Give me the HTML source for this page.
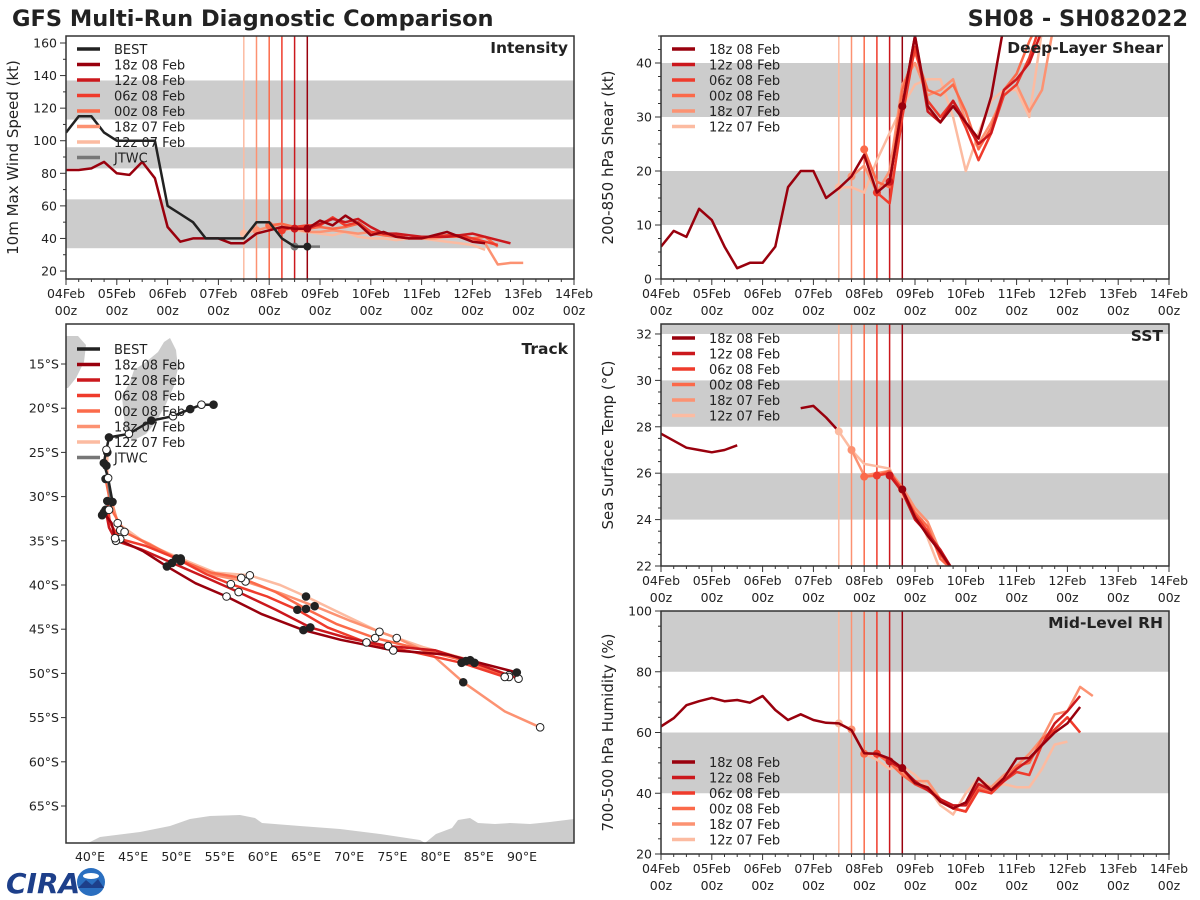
<!DOCTYPE html>
<html><head><meta charset="utf-8">
<style>
html,body{margin:0;padding:0;background:#fff;}
svg{display:block;font-family:"DejaVu Sans","Liberation Sans",sans-serif;}
</style></head>
<body>
<svg id="fig" width="1200" height="900" viewBox="0 0 1200 900" xmlns="http://www.w3.org/2000/svg">
<text x="12" y="26" font-size="22.5" font-weight="bold" fill="#222">GFS Multi-Run Diagnostic Comparison</text>
<text x="1188" y="26" font-size="22.5" font-weight="bold" fill="#222" text-anchor="end">SH08 - SH082022</text>
<g>
<text x="6" y="893" font-size="28" font-weight="bold" fill="#1d3f8a" font-style="italic">CIRA</text>
<circle cx="91" cy="882" r="14" fill="#2a6fc0"/>
<ellipse cx="91" cy="876" rx="8" ry="3" fill="#fff"/>
<path d="M78 888 L86 880 L92 885 L98 879 L104 888 Z" fill="#1d3f8a"/>
</g>
</svg>
<script>
// ===== time axis data =====
const dayLabels = ["04Feb","05Feb","06Feb","07Feb","08Feb","09Feb","10Feb","11Feb","12Feb","13Feb","14Feb"];
const runNames = ["18z 08 Feb","12z 08 Feb","06z 08 Feb","00z 08 Feb","18z 07 Feb","12z 07 Feb"];
const runInit = [4.75, 4.5, 4.25, 4.0, 3.75, 3.5];
const runColors = ["#99000d","#cb181d","#ef3b2c","#fb6a4a","#fc9272","#fcbba1"];

// ===== intensity (kt), 6-hourly =====
const bestStart = 0;
const bestVmax = [105,115,115,105,100,100,100,100,60,55,50,40,40,40,40,50,50,40,35,35];
const jtwcStart = 4.5;
const jtwcVmax = [35,35,35];
const int18z08Start = 0;
const int18z08 = [82,82,83,87,80,79,87,77,47,38,40,40,40,37,37,43,45,47,46,46,51,48,54,49,42,44,41,40,40,42,44,41,38,37];
const int12z08 = [46,46,49,52,50,52,47,43,43,42,41,41,41,42,43,41,39,37];
const int06z08 = [45,47,48,48,53,48,50,44,43,42,40,41,41,42,42,40,38,36];
const int00z08 = [48,49,47,46,47,46,47,49,43,42,41,40,40,41,41,41,40,41,35];
const int18z07 = [45,47,49,46,44,44,45,44,43,44,42,41,40,40,40,41,41,39,37,24,25,25];
const int12z07 = [43,45,47,46,45,44,43,42,44,41,40,40,39,40,40,39,38,37,36,33];

// ===== shear (kt) =====
const shr18z08Start = 0;
const shr18z08 = [6,8.9,7.8,13,10.9,6,2,3,3,6,17,20,20,15,16.8,19,23,16,18,32,45,32,29,32,29,26,33.8,47,52];
const shr12z08 = [18,32,45,31,29,33,29,25,27,35,37,40,46,50];
const shr06z08 = [16,14,30,43,33,30,33,28,22,27,34,36,41,48];
const shr00z08 = [24,18,17,35,42,35,34,36,31,24,28,35,38,44,49];
const shr18z07 = [19,21,16,20,36,40,34,35,37,29,25,29,34,36,31,35,48];
const shr12z07 = [17,17,16,22,27,32,36,37,37,30,20,27,33,35,35,30,46];

// ===== SST (C) =====
const sstHistA = [27.7,27.4,27.1,27.0,26.9,27.0,27.2];
const sstHistB = [28.8,28.9,28.4,27.8];
const sstHistBStart = 2.75;
const sst18z08 = [25.3,24.1,23.3,22.6,21.8];
const sst12z08 = [25.9,25.2,24.0,23.4,22.7,21.8];
const sst06z08 = [25.9,26.0,25.3,24.2,23.5,22.5,21.8];
const sst00z08 = [25.85,25.9,26.1,25.2,24.3,23.7,22.3,21.8];
const sst18z07 = [27.0,25.9,26.0,26.1,25.4,24.5,23.9,22.6,21.8];
const sst12z07 = [27.8,27.0,26.4,26.3,26.2,25.0,24.5,23.2,21.8];

// ===== RH (%) =====
const rh18z08Start = 0;
const rh18z08 = [62,64.7,69,70.3,71.4,70.3,70.7,69.8,72,67.4,64.1,66,64.1,63.2,63,60.8,53.2,53,51.4,48.3,43.4,41.9,37.2,35,37,45,41,45,51.4,51.6,55.8,60,63,68.4];
const rh12z08 = [50.5,48,44,41,38,36,36,43,41,44,48,51,56,63,67,72];
const rh06z08 = [53,51,48,43,41,38,35,34,41,40,44,47,46,56,61,65,60];
const rh00z08 = [53,53,50,46,43,42,38,35,34,42,40,44,49,50,58,61,65,60];
const rh18z07 = [61,53,53,50,47,44,44,38,35,34,43,42,46,49,53,58,66,67,75,72];
const rh12z07 = [63,61,53,51,48,49,46,42,36,33,40,45,42,43,42,42,48,56,57];

// ===== track (lon E, lat S) =====
const bestLon = [54.3,52.9,51.6,49.6,47.1,44.5,42.2,41.9,41.6,42.1,42.6,42.2,41.4];
const bestLat = [19.6,19.6,20.1,20.9,21.4,22.9,23.3,24.7,26.2,27.9,30.6,31.5,32.1];
const jtwcLon = [42.1,42.3,42.5];
const jtwcLat = [28.3,29.7,31.0];
const trk18z08Lon = [41.6,42.5,42.9,46.2,48.9,52.2,55.8,59.9,64.7,69.0,75.1,81.5,89.4];
const trk18z08Lat = [31.8,33.0,34.7,36.2,37.9,39.8,41.3,43.3,45.1,46.2,47.4,47.9,49.9];
const trk12z08Lon = [41.8,42.2,43.0,46.0,49.5,53.5,57.2,61.5,65.5,69.8,74.5,80.0,84.5,89.6];
const trk12z08Lat = [31.5,33.5,35.0,36.0,37.5,39.2,40.8,42.8,44.8,46.0,46.9,47.4,48.8,50.6];
const trk06z08Lon = [42.0,42.3,43.5,46.5,50.0,53.5,56.3,60.5,64.0,67.5,72.0,77.5,83.0,88.0];
const trk06z08Lat = [30.5,33.0,34.8,35.6,37.0,38.8,39.9,41.3,42.8,44.8,46.5,47.6,48.8,50.4];
const trk00z08Lon = [41.8,42.5,44.0,47.0,50.5,54.0,57.5,61.5,65.0,68.5,73.0,78.0,83.5,88.5];
const trk00z08Lat = [28.0,31.5,34.0,35.5,37.2,38.6,39.2,40.8,42.7,44.4,46.0,47.2,48.6,50.4];
const trk18z07Lon = [41.9,42.3,43.5,47.0,50.5,54.5,58.0,62.0,66.0,70.0,75.5,79.5,83.2,88.0,92.1];
const trk18z07Lat = [26.5,30.0,33.8,35.4,37.3,38.9,39.6,40.9,42.4,44.0,46.0,47.8,51.0,54.3,56.1];
const trk12z07Lon = [42.0,42.0,43.2,46.5,50.5,54.5,58.5,62.0,65.0,69.0,73.5,78.5,84.0,88.5];
const trk12z07Lat = [25.0,28.5,33.0,35.3,37.0,38.6,38.9,40.0,41.3,43.2,45.3,47.0,48.5,50.2];

// ===== helpers =====
const NS = "http://www.w3.org/2000/svg";
const svg = document.getElementById("fig");
function mk(tag, attrs, parent){
  const e = document.createElementNS(NS, tag);
  for (const k in attrs) e.setAttribute(k, attrs[k]);
  (parent||svg).appendChild(e);
  return e;
}
function linScale(d0,d1,r0,r1){ return v => r0 + (v-d0)/(d1-d0)*(r1-r0); }

function timePanel(o){
  const g = mk("g", {});
  
  
  const sx = linScale(0,10,o.x0,o.x1), sy = linScale(o.ymin,o.ymax,o.y1,o.y0);
  const clipId = "clip-"+o.name;
  const cp = mk("clipPath",{id:clipId},g);
  mk("rect",{x:o.x0,y:o.y0,width:o.x1-o.x0,height:o.y1-o.y0},cp);
  o.bands.forEach(b=>{
    const top = Math.max(sy(b[1]), o.y0), bot = Math.min(sy(b[0]), o.y1);
    const r = mk("rect",{x:o.x0,y:top,width:o.x1-o.x0,height:bot-top,fill:"#cccccc"},g);
    
    
  });
  const data = mk("g",{"clip-path":"url(#"+clipId+")"},g);
  for (let i=runInit.length-1;i>=0;i--){
    const l = mk("line",{x1:sx(runInit[i]),x2:sx(runInit[i]),y1:o.y0,y2:o.y1,stroke:runColors[i],"stroke-width":1.5},data);
    
    
  }
  mk("rect",{x:o.x0,y:o.y0,width:o.x1-o.x0,height:o.y1-o.y0,fill:"none",stroke:"#333","stroke-width":1.5},g);
  for (let d=0; d<=10; d+=0.25){
    const major = Math.abs(d-Math.round(d))<1e-6;
    mk("line",{x1:sx(d),x2:sx(d),y1:o.y1,y2:o.y1+(major?6:3),stroke:"#333","stroke-width":1},g);
    if (major){
      const t1 = mk("text",{x:sx(d),y:o.y1+19,"font-size":12.5,"text-anchor":"middle",fill:"#222"},g);
      t1.textContent = dayLabels[Math.round(d)];
      
      
      const t2 = mk("text",{x:sx(d),y:o.y1+36,"font-size":12.5,"text-anchor":"middle",fill:"#222"},g);
      t2.textContent = "00z";
      
      
    }
  }
  for (let v=o.minorStart; v<=o.ymax+1e-6; v+=o.minor){
    if (v<o.ymin) continue;
    const major = Math.abs(((v-o.majorStart)/o.major) - Math.round((v-o.majorStart)/o.major))<1e-6 && v>=o.majorStart;
    mk("line",{x1:o.x0,x2:o.x0-(major?6:3),y1:sy(v),y2:sy(v),stroke:"#333","stroke-width":1},g);
    if (major){
      const t = mk("text",{x:o.x0-9,y:sy(v)+4.5,"font-size":12.5,"text-anchor":"end",fill:"#222"},g);
      t.textContent = String(v);
      
      
    }
  }
  const yl = mk("text",{x:0,y:0,"font-size":15,"text-anchor":"middle",fill:"#222",transform:"translate("+(o.x0-48)+","+((o.y0+o.y1)/2)+") rotate(-90)"},g);
  yl.textContent = o.ylabel;
  
  
  const pt = mk("text",{x:o.x1-6,y:o.y0+17,"font-size":15.5,"font-weight":"bold","text-anchor":"end",fill:"#222"},g);
  pt.textContent = o.title;
  
  
  return {sx, sy, data, g};
}

function series(P, start, vals, color, width, name, dotFirst){
  const pts = vals.map((v,i)=>P.sx(start+i*0.25).toFixed(1)+","+P.sy(v).toFixed(1)).join(" ");
  const pl = mk("polyline",{points:pts,fill:"none",stroke:color,"stroke-width":width,"stroke-linejoin":"round"},P.data);
  
  
  if (dotFirst!==undefined){
    const c = mk("circle",{cx:P.sx(dotFirst), cy:P.sy(vals[Math.round((dotFirst-start)/0.25)]), r:4, fill:color},P.data);
    
    
  }
}

function legend(parent, x, y, names, colors){
  names.forEach((n,i)=>{
    const yy = y + i*15.5;
    const l = mk("line",{x1:x,x2:x+23,y1:yy,y2:yy,stroke:colors[i],"stroke-width":3.5},parent);
    
    
    const t = mk("text",{x:x+37,y:yy+5,"font-size":13,fill:"#222"},parent);
    t.textContent = n;
    
    
  });
}

// ===== Intensity =====
const PI = timePanel({name:"intensity-panel",x0:66,x1:574,y0:36,y1:279,ymin:15.1,ymax:164.3,bands:[[34,64],[83,96],[113,137]],minor:10,minorStart:20,major:20,majorStart:20,ylabel:"10m Max Wind Speed (kt)",title:"Intensity"});
const intRuns = [int18z08,int12z08,int06z08,int00z08,int18z07,int12z07];
for (let i=intRuns.length-1;i>=0;i--){
  const st = i===0 ? int18z08Start : runInit[i];
  series(PI, st, intRuns[i], runColors[i], 2.5, "intensity-line-"+i, runInit[i]);
}
series(PI, jtwcStart, jtwcVmax, "#777", 2.5, "jtwc-intensity-line", 4.5);
series(PI, bestStart, bestVmax, "#222", 2.5, "best-intensity-line", 4.75);
legend(PI.g, 77, 49, ["BEST"].concat(runNames).concat(["JTWC"]), ["#222"].concat(runColors).concat(["#777"]));

// ===== Shear =====
const PS = timePanel({name:"shear-panel",x0:661,x1:1169,y0:36,y1:279,ymin:0,ymax:45,bands:[[10,20],[30,40]],minor:2.5,minorStart:0,major:10,majorStart:0,ylabel:"200-850 hPa Shear (kt)",title:"Deep-Layer Shear"});
const shrRuns = [shr18z08,shr12z08,shr06z08,shr00z08,shr18z07,shr12z07];
for (let i=shrRuns.length-1;i>=0;i--){
  const st = i===0 ? shr18z08Start : runInit[i];
  series(PS, st, shrRuns[i], runColors[i], 2.5, "shear-line-"+i, runInit[i]);
}
legend(PS.g, 672, 49, runNames, runColors);

// ===== SST =====
const PT = timePanel({name:"sst-panel",x0:661,x1:1169,y0:324,y1:566,ymin:22,ymax:32.43,bands:[[24,26],[28,30],[32,34]],minor:0.5,minorStart:22,major:2,majorStart:22,ylabel:"Sea Surface Temp (°C)",title:"SST"});
series(PT, 0, sstHistA, runColors[0], 2.5, "sst-history-line");
series(PT, sstHistBStart, sstHistB, runColors[0], 2.5, "sst-history-line");
const sstRuns = [sst18z08,sst12z08,sst06z08,sst00z08,sst18z07,sst12z07];
for (let i=sstRuns.length-1;i>=0;i--){
  series(PT, runInit[i], sstRuns[i], runColors[i], 2.5, "sst-line-"+i, runInit[i]);
}
legend(PT.g, 672, 338, runNames, runColors);

// ===== RH =====
const PR = timePanel({name:"rh-panel",x0:661,x1:1169,y0:611,y1:854,ymin:20,ymax:100,bands:[[40,60],[80,100]],minor:5,minorStart:20,major:20,majorStart:20,ylabel:"700-500 hPa Humidity (%)",title:"Mid-Level RH"});
const rhRuns = [rh18z08,rh12z08,rh06z08,rh00z08,rh18z07,rh12z07];
for (let i=rhRuns.length-1;i>=0;i--){
  const st = i===0 ? rh18z08Start : runInit[i];
  series(PR, st, rhRuns[i], runColors[i], 2.5, "rh-line-"+i, runInit[i]);
}
legend(PR.g, 672, 762, runNames, runColors);

// ===== Track =====
(function(){
  const x0=66,x1=574,y0=324,y1=843;
  const sx = linScale(40,90,90,522), sy = linScale(15,65,364,806);
  const g = mk("g",{});
  
  
  const cp = mk("clipPath",{id:"clip-track"},g);
  mk("rect",{x:x0,y:y0,width:x1-x0,height:y1-y0},cp);
  const d = mk("g",{"clip-path":"url(#clip-track)"},g);
  const land1 = mk("polygon",{points:"66,336 78,336 86,345 84,362 76,378 68,388 66,388",fill:"#cccccc"},d);
  
  
  const land2 = mk("polygon",{points:"170,338 176,350 178,368 174,386 166,404 156,422 146,434 134,440 127,437 124,418 122,396 130,382 134,370 146,362 158,352 164,342",fill:"#cccccc"},d);
  
  
  const land3 = mk("polygon",{points:"88,843 100,837 140,832 170,826 190,819 210,816 240,815 255,818 262,823 300,826 340,829 380,834 420,840 425,843",fill:"#cccccc"},d);
  
  
  const land4 = mk("polygon",{points:"425,843 436,834 452,828 458,820 470,818 478,823 495,824 510,823 530,824 550,822 574,819 574,843",fill:"#cccccc"},d);
  
  
  const trkLons = [trk18z08Lon,trk12z08Lon,trk06z08Lon,trk00z08Lon,trk18z07Lon,trk12z07Lon];
  const trkLats = [trk18z08Lat,trk12z08Lat,trk06z08Lat,trk00z08Lat,trk18z07Lat,trk12z07Lat];
  function path(lons,lats,color,name){
    const pts = lons.map((v,i)=>sx(v).toFixed(1)+","+sy(lats[i]).toFixed(1)).join(" ");
    const pl = mk("polyline",{points:pts,fill:"none",stroke:color,"stroke-width":2.5,"stroke-linejoin":"round"},d);
    
    
  }
  function markers(lons,lats,step){
    lons.forEach((v,i)=>{
      if (i%step!==0 && i!==lons.length-1) return;
      const c = mk("circle",{cx:sx(v),cy:sy(lats[i]),r:3.8,fill:((i/step)%2===0)?"#222":"#fff",stroke:"#222","stroke-width":1},d);
      
      
    });
  }
  for (let i=trkLons.length-1;i>=0;i--) path(trkLons[i],trkLats[i],runColors[i],"track-line-"+i);
  path(jtwcLon,jtwcLat,"#777","jtwc-track-line");
  path(bestLon,bestLat,"#222","best-track-line");
  for (let i=trkLons.length-1;i>=0;i--) markers(trkLons[i],trkLats[i],2);
  markers(bestLon,bestLat,1);
  mk("rect",{x:x0,y:y0,width:x1-x0,height:y1-y0,fill:"none",stroke:"#333","stroke-width":1.5},g);
  for (let lat=15; lat<=65; lat+=5){
    mk("line",{x1:x0,x2:x0-5,y1:sy(lat),y2:sy(lat),stroke:"#333"},g);
    const t = mk("text",{x:x0-7,y:sy(lat)+4.5,"font-size":12.5,"text-anchor":"end",fill:"#222"},g);
    t.textContent = lat+"°S";
    
    
  }
  for (let lon=40; lon<=90; lon+=5){
    const t = mk("text",{x:sx(lon),y:y1+18,"font-size":12.5,"text-anchor":"middle",fill:"#222"},g);
    t.textContent = lon+"°E";
    
    
  }
  const pt = mk("text",{x:x1-6,y:y0+30,"font-size":15.5,"font-weight":"bold","text-anchor":"end",fill:"#222"},g);
  pt.textContent = "Track";
  
  
  legend(g, 77, 349, ["BEST"].concat(runNames).concat(["JTWC"]), ["#222"].concat(runColors).concat(["#777"]));
})();
</script>
</body></html>
